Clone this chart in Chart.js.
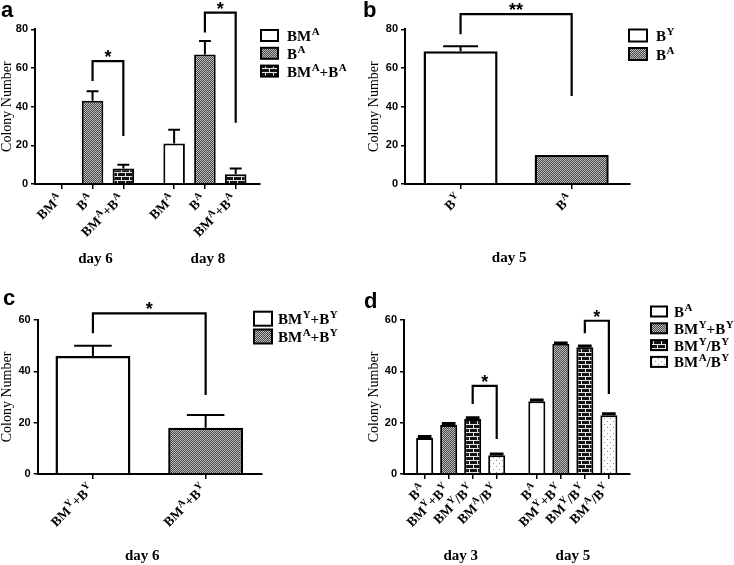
<!DOCTYPE html>
<html><head><meta charset="utf-8">
<script src="https://cdn.jsdelivr.net/npm/chart.js@4.4.0/dist/chart.umd.min.js"></script>
<style>
html,body{margin:0;padding:0;background:#fff;}
#wrap{position:relative;width:734px;height:565px;overflow:hidden;background:#fff;}
canvas{position:absolute;left:0;top:0;}
</style></head><body>
<div id="wrap">
<canvas id="ca" width="734" height="565"></canvas>
<canvas id="cb" width="734" height="565"></canvas>
<canvas id="cc" width="734" height="565"></canvas>
<canvas id="cd" width="734" height="565"></canvas>
</div>
<script>
// ================= DATA =================
// Panel a
const aGroups = ['day 6', 'day 8'];
const aSeries = ['BM^A', 'B^A', 'BM^A+B^A'];
const aBM_A = [0, 21];
const aB_A = [43, 67];
const aBMA_BA = [8, 5];
const aErrBM_A = [0, 7];
const aErrB_A = [5, 7];
const aErrBMA_BA = [2, 3];
const aBrackets = [
  {from: [0, 1], to: [0, 2], top: 63.5, leftEnd: 53.3, rightEnd: 24.8, mark: '*'},
  {from: [1, 1], to: [1, 2], top: 88.6, leftEnd: 78.3, rightEnd: 31.7, mark: '*'}
];
// Panel b
const bGroups = ['day 5'];
const bSeries = ['B^Y', 'B^A'];
const bB_Y = [68.7];
const bB_A = [15];
const bErrB_Y = [2.5];
const bErrB_A = [0];
const bBrackets = [
  {from: [0, 0], to: [0, 1], top: 87.8, leftEnd: 77.5, rightEnd: 45.5, mark: '**'}
];
// Panel c
const cGroups = ['day 6'];
const cSeries = ['BM^Y+B^Y', 'BM^A+B^Y'];
const cBMY_BY = [46];
const cBMA_BY = [18];
const cErrBMY_BY = [4];
const cErrBMA_BY = [5];
const cBrackets = [
  {from: [0, 0], to: [0, 1], top: 62.6, leftEnd: 54.8, rightEnd: 30.8, mark: '*'}
];
// Panel d
const dGroups = ['day 3', 'day 5'];
const dSeries = ['B^A', 'BM^Y+B^Y', 'BM^Y/B^Y', 'BM^A/B^Y'];
const dB_A = [14, 28.3];
const dBMY_plus_BY = [19.1, 50.7];
const dBMY_slash_BY = [21.4, 49.4];
const dBMA_slash_BY = [7.3, 22.9];
const dErrB_A = [0.6, 0.5];
const dErrBMY_plus_BY = [0.6, 0.3];
const dErrBMY_slash_BY = [0.5, 0.5];
const dErrBMA_slash_BY = [0.5, 0.6];
const dBrackets = [
  {from: [0, 2], to: [0, 3], top: 34.3, leftEnd: 27.3, rightEnd: 13.6, mark: '*'},
  {from: [1, 2], to: [1, 3], top: 59.7, leftEnd: 54.8, rightEnd: 31.2, mark: '*'}
];
const yTitle = 'Colony Number';

// ================= STYLE =================
const SERIF = '"Liberation Serif", "Times New Roman", serif';
const SANS = '"Liberation Sans", Arial, sans-serif';

function makePattern(kind) {
  const c = document.createElement('canvas');
  const g = c.getContext('2d');
  if (kind === 'check') {
    c.width = 2; c.height = 2;
    g.fillStyle = '#474747'; g.fillRect(0, 0, 2, 2);
    g.fillStyle = '#bdbdbd'; g.fillRect(0, 0, 1, 1); g.fillRect(1, 1, 1, 1);
  } else if (kind === 'brick') {
    c.width = 8; c.height = 8;
    g.fillStyle = '#141414'; g.fillRect(0, 0, 8, 8);
    g.fillStyle = '#e6e6e6';
    g.fillRect(0, 0, 8, 1); g.fillRect(0, 4, 8, 1);
    g.fillRect(1, 1, 1, 3); g.fillRect(5, 5, 1, 3);
  } else if (kind === 'dots') {
    c.width = 6; c.height = 6;
    g.fillStyle = '#ffffff'; g.fillRect(0, 0, 6, 6);
    g.fillStyle = '#8c8c8c'; g.fillRect(1, 1, 1, 1); g.fillRect(4, 4, 1, 1);
  } else {
    c.width = 1; c.height = 1;
    g.fillStyle = '#ffffff'; g.fillRect(0, 0, 1, 1);
  }
  return g.createPattern(c, 'repeat');
}
const FILL = {
  white: makePattern('white'), check: makePattern('check'),
  brick: makePattern('brick'), dots: makePattern('dots')
};

function richParts(t) {
  const parts = [];
  for (let i = 0; i < t.length; i++) {
    if (t[i] === '^') { parts.push({s: t[i + 1], sup: true}); i++; }
    else if (parts.length && !parts[parts.length - 1].sup) parts[parts.length - 1].s += t[i];
    else parts.push({s: t[i], sup: false});
  }
  return parts;
}
function drawRich(ctx, t, x, y, size, align) {
  const parts = richParts(t);
  const base = 'bold ' + size + 'px ' + SERIF;
  const sup = 'bold ' + Math.round(size * 0.72) + 'px ' + SERIF;
  let w = 0;
  parts.forEach(p => { ctx.font = p.sup ? sup : base; p.w = ctx.measureText(p.s).width + (p.sup ? 0.5 : 0); w += p.w; });
  let cx = align === 'right' ? x - w : align === 'center' ? x - w / 2 : x;
  ctx.textAlign = 'left'; ctx.textBaseline = 'alphabetic';
  parts.forEach(p => {
    ctx.font = p.sup ? sup : base;
    ctx.fillText(p.s, cx + (p.sup ? 0.5 : 0), y - (p.sup ? size * 0.4 : 0));
    cx += p.w;
  });
}

function buildPanel(id, cfg) {
  const nS = cfg.series.length;
  const pos = (g, s) => g * (nS + cfg.gap) + s;
  const positions = [];
  cfg.groups.forEach((_, g) => cfg.series.forEach((_, s) => positions.push(pos(g, s))));
  const datasets = cfg.series.map((name, s) => ({
    label: name,
    data: cfg.groups.map((_, g) => ({x: pos(g, s), y: cfg.values[s][g]})),
    errors: cfg.errors[s],
    backgroundColor: FILL[cfg.fills[s]],
    borderColor: '#000',
    borderWidth: cfg.bw,
    borderSkipped: 'start',
    grouped: false,
    barPercentage: cfg.ratio,
    categoryPercentage: 1
  }));
  const L = cfg.area[0], T = cfg.area[1], R = cfg.area[2], B = cfg.area[3];

  const annot = {
    id: 'annot_' + id,
    afterDatasetsDraw(chart) {
      const ctx = chart.ctx, ys = chart.scales.y;
      ctx.save();
      ctx.strokeStyle = '#000'; ctx.lineWidth = cfg.errLW;
      chart.data.datasets.forEach((ds, i) => {
        const meta = chart.getDatasetMeta(i);
        meta.data.forEach((bar, j) => {
          const e = ds.errors[j];
          if (!e) return;
          const v = ds.data[j].y;
          const y0 = ys.getPixelForValue(v), y1 = ys.getPixelForValue(v + e);
          const hw = bar.width * cfg.capFrac / 2;
          ctx.beginPath();
          ctx.moveTo(bar.x, y0); ctx.lineTo(bar.x, y1);
          ctx.moveTo(bar.x - hw, y1); ctx.lineTo(bar.x + hw, y1);
          ctx.stroke();
        });
      });
      ctx.restore();
    },
    afterDraw(chart) {
      const ctx = chart.ctx, xs = chart.scales.x, ys = chart.scales.y;
      ctx.save();
      ctx.fillStyle = '#000'; ctx.strokeStyle = '#000';
      // panel letter
      ctx.font = 'bold 22px ' + SANS; ctx.textAlign = 'left'; ctx.textBaseline = 'alphabetic';
      ctx.fillText(cfg.letter[0], cfg.letter[1], cfg.letter[2]);
      // y title
      ctx.save();
      ctx.translate(cfg.titleX, (T + B) / 2);
      ctx.rotate(-Math.PI / 2);
      ctx.font = '14px ' + SERIF; ctx.textAlign = 'center'; ctx.textBaseline = 'middle';
      ctx.fillText(yTitle, 0, 0);
      ctx.restore();
      // rotated category labels
      cfg.groups.forEach((gname, g) => {
        cfg.series.forEach((sname, s) => {
          const px = xs.getPixelForValue(pos(g, s));
          ctx.save();
          ctx.translate(px - 2, B + cfg.labDy);
          ctx.rotate(-Math.PI / 4);
          drawRich(ctx, sname, 0, cfg.labSize * 0.35, cfg.labSize, 'right');
          ctx.restore();
        });
        const c0 = xs.getPixelForValue(pos(g, 0)), c1 = xs.getPixelForValue(pos(g, nS - 1));
        ctx.font = 'bold 15px ' + SERIF; ctx.textAlign = 'center'; ctx.textBaseline = 'middle';
        ctx.fillText(gname, (c0 + c1) / 2 + cfg.groupDx, cfg.groupY);
      });
      // brackets
      ctx.lineWidth = 2.2;
      cfg.brackets.forEach(b => {
        const x1 = xs.getPixelForValue(pos(b.from[0], b.from[1]));
        const x2 = xs.getPixelForValue(pos(b.to[0], b.to[1]));
        const yt = ys.getPixelForValue(b.top);
        ctx.beginPath();
        ctx.moveTo(x1, ys.getPixelForValue(b.leftEnd));
        ctx.lineTo(x1, yt); ctx.lineTo(x2, yt);
        ctx.lineTo(x2, ys.getPixelForValue(b.rightEnd));
        ctx.stroke();
        ctx.font = 'bold 18px ' + SANS; ctx.textAlign = 'center'; ctx.textBaseline = 'alphabetic';
        ctx.fillText(b.mark, (x1 + x2) / 2, yt + 2);
      });
      // legend
      const lg = cfg.legend;
      cfg.series.forEach((name, s) => {
        const cy = lg.y0 + s * lg.dy;
        ctx.fillStyle = FILL[cfg.fills[s]];
        ctx.fillRect(lg.x, cy - lg.h / 2, lg.w, lg.h);
        ctx.lineWidth = 2; ctx.strokeStyle = '#000';
        ctx.strokeRect(lg.x, cy - lg.h / 2, lg.w, lg.h);
        ctx.fillStyle = '#000';
        drawRich(ctx, name, lg.tx, cy + 5.5, 15, 'left');
      });
      ctx.restore();
    }
  };

  return new Chart(document.getElementById(id), {
    type: 'bar',
    data: {datasets},
    options: {
      responsive: false, animation: false, devicePixelRatio: 1,
      layout: {padding: {left: L - 30, top: T, right: 734 - R, bottom: 565 - B - 6}},
      plugins: {legend: {display: false}, tooltip: {enabled: false}},
      scales: {
        x: {
          type: 'linear', min: cfg.xRange[0], max: cfg.xRange[1], offset: false,
          afterBuildTicks: sc => { sc.ticks = positions.map(v => ({value: v})); },
          afterFit: sc => { sc.height = 6; },
          ticks: {display: false},
          grid: {display: true, offset: false, drawOnChartArea: false, drawTicks: true, tickLength: 5, color: '#000', lineWidth: 1.5},
          border: {display: true, color: '#000', width: 2}
        },
        y: {
          min: 0, max: cfg.yMax,
          afterFit: sc => { sc.width = 30; },
          ticks: {stepSize: 20, color: '#000', padding: 3, font: {family: SANS, size: 11, weight: 'bold'}},
          grid: {display: true, drawOnChartArea: false, drawTicks: true, tickLength: 4, color: '#000', lineWidth: 1.5},
          border: {display: true, color: '#000', width: 2}
        }
      }
    },
    plugins: [annot]
  });
}

buildPanel('ca', {
  groups: aGroups, series: aSeries,
  values: [aBM_A, aB_A, aBMA_BA], errors: [aErrBM_A, aErrB_A, aErrBMA_BA],
  fills: ['white', 'check', 'brick'], brackets: aBrackets,
  area: [35, 29.3, 260, 184], xRange: [-0.87, 6.44], yMax: 80, gap: 0.65, ratio: 0.70,
  bw: 2, capFrac: 0.55, errLW: 2,
  legend: {x: 261, w: 17, h: 11, y0: 35.5, dy: 17.8, tx: 287},
  labDy: 12, labSize: 13.5, groupY: 259, groupDx: 3,
  letter: ['a', 1, 17], titleX: 7
});
buildPanel('cb', {
  groups: bGroups, series: bSeries,
  values: [bB_Y, bB_A], errors: [bErrB_Y, bErrB_A],
  fills: ['white', 'check'], brackets: bBrackets,
  area: [405, 29.3, 630, 184], xRange: [-0.5, 1.525], yMax: 80, gap: 0, ratio: 0.667,
  bw: 2.5, capFrac: 0.47, errLW: 2,
  legend: {x: 629, w: 18, h: 12, y0: 35.5, dy: 18.5, tx: 656},
  labDy: 12, labSize: 13.5, groupY: 258, groupDx: -7,
  letter: ['b', 363, 17], titleX: 374
});
buildPanel('cc', {
  groups: cGroups, series: cSeries,
  values: [cBMY_BY, cBMA_BY], errors: [cErrBMY_BY, cErrBMA_BY],
  fills: ['white', 'check'], brackets: cBrackets,
  area: [37.7, 320, 262, 474], xRange: [-0.49, 1.5], yMax: 60, gap: 0, ratio: 0.665,
  bw: 2.5, capFrac: 0.5, errLW: 2,
  legend: {x: 254, w: 18, h: 14, y0: 318.7, dy: 17.8, tx: 278},
  labDy: 12, labSize: 13.5, groupY: 556, groupDx: -7,
  letter: ['c', 3, 305], titleX: 7
});
buildPanel('cd', {
  groups: dGroups, series: dSeries,
  values: [dB_A, dBMY_plus_BY, dBMY_slash_BY, dBMA_slash_BY],
  errors: [dErrB_A, dErrBMY_plus_BY, dErrBMY_slash_BY, dErrBMA_slash_BY],
  fills: ['white', 'check', 'brick', 'dots'], brackets: dBrackets,
  area: [404, 320, 630, 474], xRange: [-0.86, 8.55], yMax: 60, gap: 0.67, ratio: 0.71,
  bw: 2, capFrac: 0.8, errLW: 3,
  legend: {x: 651, w: 16, h: 10, y0: 311.5, dy: 16.8, tx: 674},
  labDy: 12, labSize: 13.5, groupY: 556, groupDx: 0,
  letter: ['d', 364, 308], titleX: 374
});
</script>
</body></html>
